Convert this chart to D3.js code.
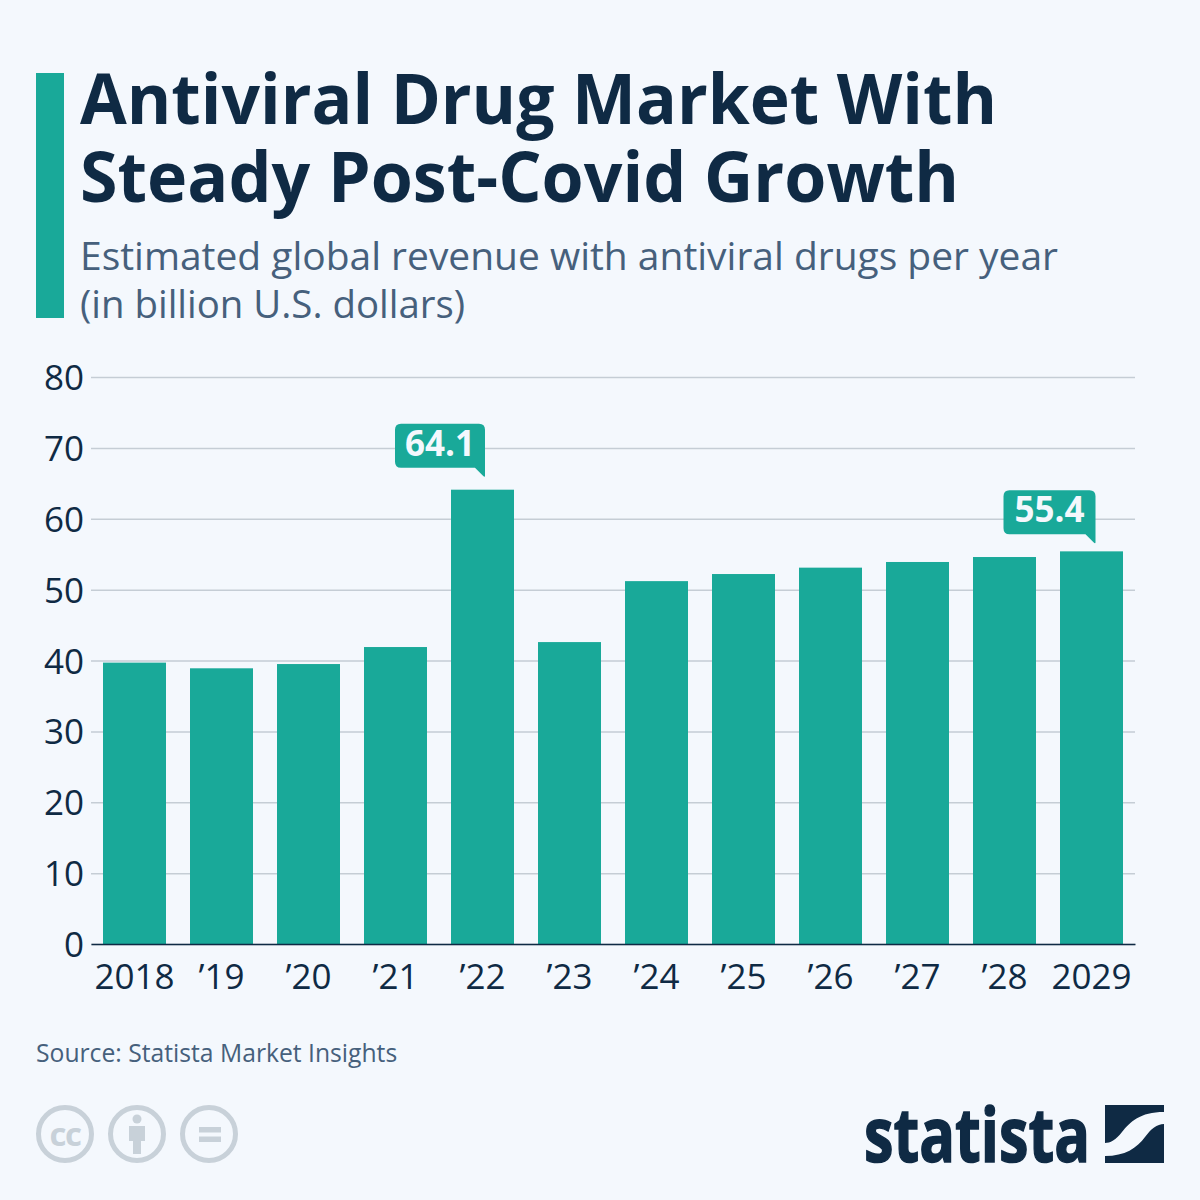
<!DOCTYPE html>
<html><head><meta charset="utf-8">
<script src="https://cdn.jsdelivr.net/npm/d3@7"></script>
<style>html,body{margin:0;padding:0;background:#f4f8fd}svg{display:block}text{font-family:"Open Sans",sans-serif}</style>
</head><body><svg id="c" width="1200" height="1200"></svg>
<script>
const categories=["2018","’19","’20","’21","’22","’23","’24","’25","’26","’27","’28","2029"];
const revenue=[39.7,38.9,39.5,41.9,64.1,42.6,51.2,52.2,53.1,53.9,54.6,55.4];
const yTicks=[0,10,20,30,40,50,60,70,80];
const calloutYears=["’22","2029"];
const titleLines=["Antiviral Drug Market With","Steady Post-Covid Growth"];
const subtitleLines=["Estimated global revenue with antiviral drugs per year","(in billion U.S. dollars)"];
const source="Source: Statista Market Insights";

const teal="#19a999",navy="#0f2a44",slate="#46607c",grid="#c5cdd5";
const svg=d3.select("#c");
svg.append("rect").attr("width",1200).attr("height",1200).attr("fill","#f4f8fd");
svg.append("rect").attr("x",36).attr("y",73).attr("width",28).attr("height",245).attr("fill",teal);
const titleWidths=[917,879];
titleLines.forEach((t,i)=>svg.append("text").attr("x",80).attr("y",124+i*78).attr("font-size",70).attr("font-weight",700).attr("fill",navy)
  .attr("textLength",titleWidths[i]).attr("lengthAdjust","spacingAndGlyphs").text(t));
const subtitleWidths=[978,385];
subtitleLines.forEach((t,i)=>svg.append("text").attr("x",80).attr("y",270+i*48).attr("font-size",39).attr("fill",slate)
  .attr("textLength",subtitleWidths[i]).attr("lengthAdjust","spacingAndGlyphs").text(t));

const x=d3.scaleBand().domain(categories).range([91,1135]).paddingInner(24/87).paddingOuter(12/87);
const y=d3.scaleLinear().domain([0,80]).range([944,377]);

const yAxis=svg.append("g").attr("transform","translate(91,0)").call(d3.axisLeft(y).tickValues(yTicks).tickSize(-1044).tickPadding(7).tickFormat(d3.format("d")));
yAxis.select(".domain").remove();
yAxis.selectAll("line").attr("stroke",grid).attr("stroke-width",1.5);
yAxis.selectAll("text").attr("font-size",35).attr("fill",navy).attr("dy","0.36em").style("font-family",'"Open Sans",sans-serif');

svg.append("g").selectAll("rect").data(categories).join("rect")
 .attr("x",d=>x(d)).attr("width",x.bandwidth())
 .attr("y",(d,i)=>y(revenue[i])).attr("height",(d,i)=>y(0)-y(revenue[i])).attr("fill",teal);

const xAxis=svg.append("g").attr("transform","translate(0,944)").call(d3.axisBottom(x).tickSize(0).tickPadding(20));
xAxis.select(".domain").attr("stroke",navy).attr("stroke-width",1.5);
xAxis.selectAll("text").attr("font-size",35).attr("fill",navy).style("font-family",'"Open Sans",sans-serif');

// callouts: rounded label with a pointer at its lower right corner
const calloutGap={"’22":66,"2029":61};
categories.forEach((c,i)=>{
  if(!calloutYears.includes(c))return;
  const right=x(c)+x.bandwidth()-(c==="2029"?27.5:29), top=y(revenue[i])-calloutGap[c], w=c==="2029"?92:90,h=44,r=6;
  const left=right-w,bot=top+h;
  svg.append("path").attr("fill",teal).attr("d",
   `M${left+r},${top}H${right-r}Q${right},${top} ${right},${top+r}V${bot+8}Q${right},${bot+10} ${right-2},${bot+8}L${right-10},${bot}H${left+r}Q${left},${bot} ${left},${bot-r}V${top+r}Q${left},${top} ${left+r},${top}Z`);
  svg.append("text").attr("x",left+w/2).attr("y",top+32).attr("text-anchor","middle").attr("font-size",35).attr("font-weight",700).attr("fill","#f4f8fd").text(revenue[i].toFixed(1));
});

svg.append("text").attr("x",36).attr("y",1062).attr("font-size",24.7).attr("fill",slate).text(source);

// licence icons
const ic="#c8d1d9";
[65,137,209].forEach(cx=>svg.append("circle").attr("cx",cx).attr("cy",1134).attr("r",26.5).attr("fill","none").attr("stroke",ic).attr("stroke-width",5));
svg.append("text").attr("x",65).attr("y",1146).attr("text-anchor","middle").attr("font-size",33).attr("font-weight",700).attr("letter-spacing",-1.5).attr("fill",ic).text("cc");
svg.append("circle").attr("cx",137).attr("cy",1119).attr("r",4.5).attr("fill",ic);
svg.append("path").attr("fill",ic).attr("d","M129,1126H145V1141H141V1154H133V1141H129Z");
svg.append("rect").attr("x",199).attr("y",1127).attr("width",22).attr("height",5.5).attr("fill",ic);
svg.append("rect").attr("x",199).attr("y",1136.5).attr("width",22).attr("height",5.5).attr("fill",ic);

// logo
svg.append("text").attr("x",864).attr("y",1162).attr("font-size",75).attr("font-weight",700).attr("fill",navy)
 .attr("textLength",226).attr("lengthAdjust","spacingAndGlyphs").style("font-family",'"Liberation Sans Narrow","Open Sans",sans-serif').style("stroke",navy).style("stroke-width",1.5).text("statista");
svg.append("path").attr("fill",navy).attr("d","M1105,1105H1164V1112C1140,1112 1130,1122 1122,1132C1116,1140 1110,1143 1105,1143Z");
svg.append("path").attr("fill",navy).attr("d","M1164,1124V1163H1105V1156C1125,1156 1137,1148 1145,1137C1151,1129 1157,1124 1164,1124Z");
</script></body></html>
